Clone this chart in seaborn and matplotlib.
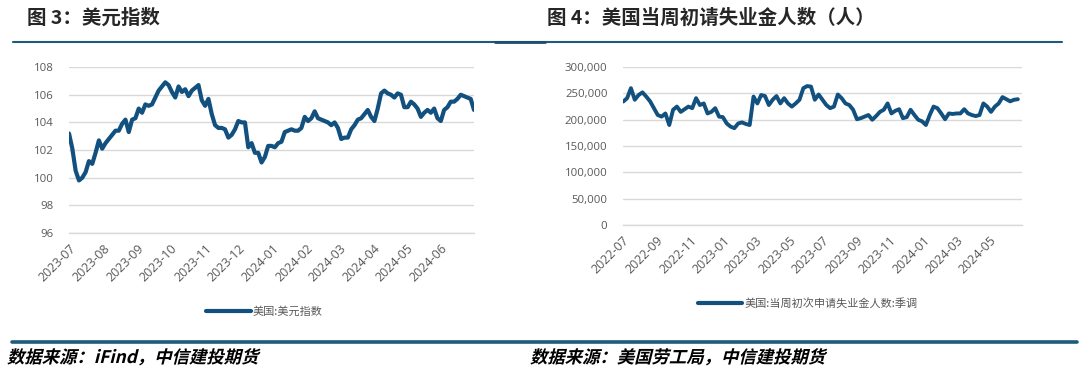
import numpy as np
import pandas as pd
import matplotlib
matplotlib.use('Agg')
from matplotlib import pyplot as plt
import matplotlib.dates as mdates
import matplotlib.ticker as mticker
from matplotlib.lines import Line2D
from matplotlib.textpath import TextPath
from matplotlib.patches import PathPatch
from matplotlib.font_manager import FontProperties
from matplotlib.transforms import Affine2D, IdentityTransform
import seaborn as sns

# 美元指数, sampled every 3 days from 2023-07-01
dxy_start = '2023-07-01'
dxy = [103.2, 102.1, 100.5, 99.8, 100.0, 100.4, 101.2, 101.0, 101.8, 102.7,
       102.1, 102.5, 102.8, 103.1, 103.4, 103.4, 103.9, 104.2, 103.3, 104.2,
       104.3, 105.0, 104.7, 105.3, 105.2, 105.3, 105.8, 106.3, 106.6, 106.9,
       106.7, 106.2, 105.8, 106.6, 106.2, 106.4, 105.9, 106.3, 106.5, 106.7,
       105.6, 105.2, 105.7, 104.6, 103.8, 103.6, 103.6, 103.5, 102.9, 103.1,
       103.5, 104.1, 104.0, 104.0, 102.2, 102.5, 101.8, 101.8, 101.1, 101.5,
       102.3, 102.3, 102.2, 102.5, 102.6, 103.3, 103.4, 103.5, 103.4, 103.4,
       103.6, 104.4, 104.1, 104.3, 104.8, 104.3, 104.2, 104.1, 104.0, 103.8,
       104.0, 103.6, 102.8, 102.9, 102.9, 103.5, 103.8, 104.2, 104.3, 104.6,
       104.9, 104.4, 104.1, 105.0, 106.1, 106.3, 106.1, 106.0, 105.8, 106.1,
       106.0, 105.1, 105.1, 105.5, 105.3, 105.0, 104.4, 104.7, 104.9, 104.7,
       105.0, 104.3, 104.1, 104.9, 105.1, 105.5, 105.5, 105.7, 106.0, 105.9,
       105.8, 105.7, 104.9]

# 初请失业金人数 (季调), weekly from 2022-07-02
claims_start = '2022-07-02'
claims = [234600, 241000, 260000, 238000, 247000, 252000, 244000, 235000, 222000, 209000,
          206000, 212000, 190000, 219000, 225000, 215000, 220000, 225000, 222000, 241000,
          228000, 231000, 212000, 215000, 222000, 206000, 205000, 193000, 187000, 184000,
          193000, 195000, 192000, 190000, 244000, 231000, 247000, 245000, 228000, 238000,
          245000, 231000, 241000, 231000, 225000, 231000, 238000, 260000, 264000, 263000,
          238000, 248000, 238000, 228000, 222000, 225000, 248000, 241000, 231000, 228000,
          219000, 201000, 203000, 206000, 209000, 200000, 207000, 215000, 219000, 231000,
          212000, 217000, 220000, 203000, 205000, 219000, 209000, 200000, 197000, 190000,
          209000, 225000, 222000, 212000, 201000, 212000, 211000, 212000, 212000, 220000,
          212000, 209000, 207000, 209000, 231000, 225000, 215000, 225000, 231000, 243000,
          239000, 235000, 238000, 239000]

df1 = pd.DataFrame({'date': pd.date_range(dxy_start, periods=len(dxy), freq='3D'), 'val': dxy})
df2 = pd.DataFrame({'date': pd.date_range(claims_start, periods=len(claims), freq='7D'), 'val': claims})

sns.set_style('white')
plt.rcParams['font.family'] = ['Open Sans', 'Noto Sans CJK SC', 'DejaVu Sans']
plt.rcParams['axes.unicode_minus'] = False

line_c = '#12517f'
bar_c = '#1d5a7c'
grid_c = '#d9d9d9'
txt_c = '#595959'
cjk = ['Noto Sans CJK SC', 'DejaVu Sans']
W, H = 1080, 377

fig = plt.figure(figsize=(10.8, 3.77), dpi=100)
ax1 = fig.add_axes([0.0639, 0.382, 0.375, 0.440])
ax2 = fig.add_axes([0.5766, 0.403, 0.3694, 0.419])

sns.lineplot(data=df1, x='date', y='val', ax=ax1, color=line_c, lw=3.0, legend=False)
sns.lineplot(data=df2, x='date', y='val', ax=ax2, color=line_c, lw=2.8, legend=False)

for ax in (ax1, ax2):
    for s in ('left', 'right', 'top'):
        ax.spines[s].set_visible(False)
    ax.spines['bottom'].set_color(grid_c)
    ax.spines['bottom'].set_linewidth(1)
    ax.yaxis.grid(True, color=grid_c, lw=1)
    ax.set_axisbelow(True)
    ax.set_xlabel('')
    ax.set_ylabel('')
    ax.tick_params(axis='y', length=0, labelsize=8.2, labelcolor=txt_c, pad=11)
    ax.tick_params(axis='x', length=3.5, color='#bfbfbf', labelsize=9, labelcolor=txt_c, pad=3)

ax1.set_ylim(96, 108)
ax1.set_yticks(np.arange(96, 109, 2))
ax1.set_xlim(pd.Timestamp('2023-07-01'), pd.Timestamp('2024-07-01'))
ax1.set_xticks(pd.date_range('2023-07-01', '2024-06-01', freq='MS'))

ax2.set_ylim(0, 300000)
ax2.set_yticks(np.arange(0, 300001, 50000))
ax2.yaxis.set_major_formatter(mticker.FuncFormatter(lambda v, p: f'{int(v):,}'))
ax2.set_xlim(pd.Timestamp('2022-07-01'), pd.Timestamp('2024-06-29'))
ax2.set_xticks(pd.date_range('2022-07-01', '2024-05-01', freq='2MS'))

for ax in (ax1, ax2):
    ax.xaxis.set_major_formatter(mdates.DateFormatter('%Y-%m'))
    plt.setp(ax.get_xticklabels(), rotation=45, ha='right', rotation_mode='anchor')

h1 = [Line2D([], [], color=line_c, lw=3.0)]
fig.legend(h1, ['美国:美元指数'], loc='center', bbox_to_anchor=(0.245, 0.173), frameon=False,
           handlelength=4.0, prop={'family': cjk, 'size': 8}, labelcolor=txt_c, handletextpad=0.2)
fig.legend(h1, ['美国:当周初次申请失业金人数:季调'], loc='center', bbox_to_anchor=(0.748, 0.196),
           frameon=False, handlelength=4.0, prop={'family': cjk, 'size': 8}, labelcolor=txt_c,
           handletextpad=0.2)

# titles
fig.text(27 / W, 1 - 18 / H, '图 3：美元指数', fontsize=14, fontweight='bold', family=cjk,
         va='center', ha='left')
fig.text(547 / W, 1 - 18 / H, '图 4：美国当周初请失业金人数（人）', fontsize=14,
         fontweight='bold', family=cjk, va='center', ha='left')

# rules
fig.add_artist(Line2D([13 / W, 1062 / W], [1 - 41.5 / H] * 2, color=bar_c, lw=1.5))
fig.add_artist(Line2D([495 / W, 545 / W], [1 - 41.5 / H] * 2, color='#1a4f6e', lw=2.0))
fig.add_artist(Line2D([12 / W, 1077 / W], [1 - 342 / H] * 2, color=bar_c, lw=2.6))


# sources, slanted like the original's italic
def slanted(s, x, y, size):
    fp = FontProperties(family='Noto Sans CJK SC', weight='bold')
    tp = TextPath((0, 0), s, size=size * 100 / 72, prop=fp)
    tr = Affine2D().skew_deg(14, 0).translate(x, H - y)
    fig.add_artist(PathPatch(tr.transform_path(tp), transform=IdentityTransform(),
                             facecolor='black', edgecolor='none'))


slanted('数据来源：iFind，中信建投期货', 7, 363, 12.5)
slanted('数据来源：美国劳工局，中信建投期货', 530, 363, 12.5)

fig.savefig('out.png', dpi=100)
